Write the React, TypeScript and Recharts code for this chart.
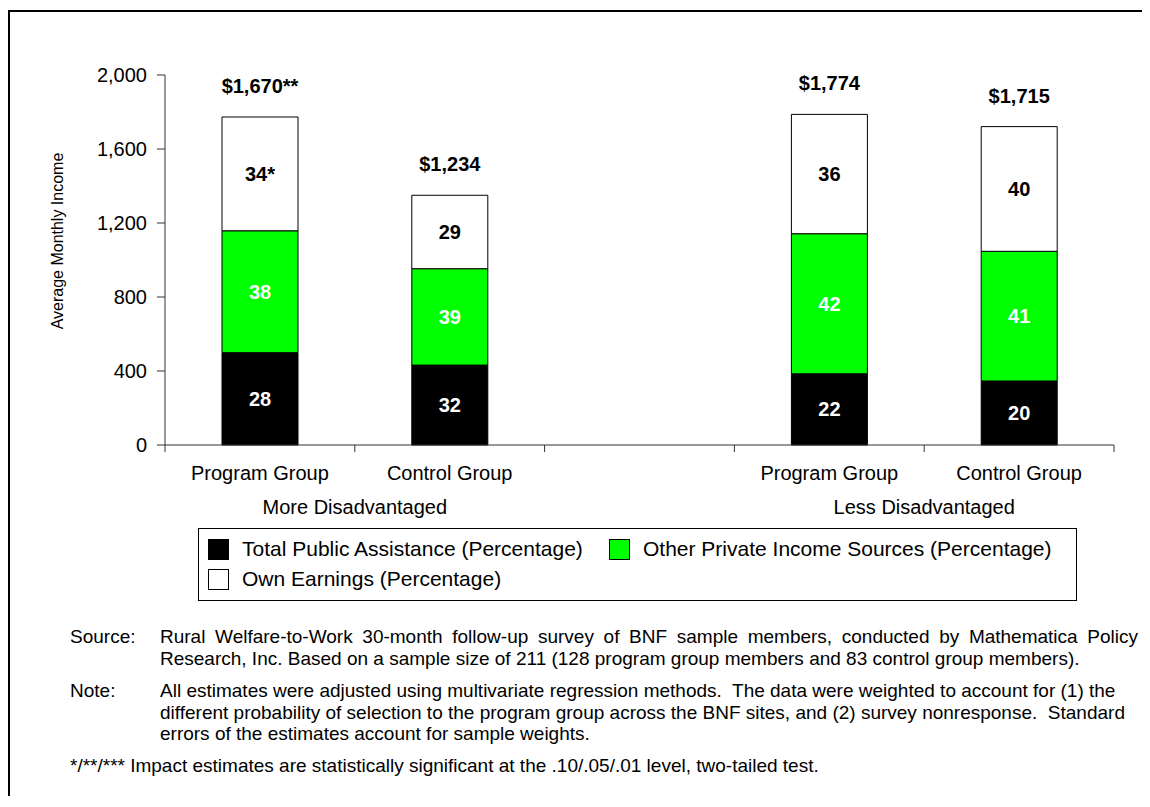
import React from "react";
import { BarChart, Bar, XAxis, YAxis, Legend, LabelList } from "recharts";

// categories on the x axis (the empty one is the gap between the two groups)
const categories = ["Program Group", "Control Group", "", "Program Group", "Control Group"];
const groups = ["More Disadvantaged", "Less Disadvantaged"];
const groupAfter = [0, 3]; // group label sits on the boundary right of these categories

// dollar amounts
const publicAssistance = [499, 432, null, 385, 346];
const otherPrivate = [659, 521, null, 757, 701];
const ownEarnings = [615, 397, null, 645, 674];

// printed labels
const pctPublic = ["28", "32", "", "22", "20"];
const pctOther = ["38", "39", "", "42", "41"];
const pctOwn = ["34*", "29", "", "36", "40"];
const totals = ["$1,670**", "$1,234", "", "$1,774", "$1,715"];

const yTicks = [0, 400, 800, 1200, 1600, 2000];

const seriesNames = [
  "Total Public Assistance (Percentage)",
  "Other Private Income Sources (Percentage)",
  "Own Earnings (Percentage)",
];
const seriesColors = ["#000000", "#00ff00", "#ffffff"];

const data = categories.map((name, i) => ({
  id: i,
  name,
  pa: publicAssistance[i],
  other: otherPrivate[i],
  own: ownEarnings[i],
  paPct: pctPublic[i],
  otherPct: pctOther[i],
  ownPct: pctOwn[i],
  total: totals[i],
}));

const FONT = "'Liberation Sans', Arial, sans-serif";
const AXIS = "#333";

const W = 1134;
const H = 600;
const MARGIN = { top: 67, right: 28, bottom: 88, left: 0 };
const Y_W = 157;
const X_H = 75;
const HALF_BAND = (W - MARGIN.left - MARGIN.right - Y_W) / categories.length / 2;

function CategoryTick(props: any) {
  const { x, y, index } = props;
  const gi = groupAfter.indexOf(index);
  return (
    <g>
      <line x1={x - HALF_BAND} x2={x - HALF_BAND} y1={y} y2={y + 7} stroke={AXIS} />
      {index === categories.length - 1 && (
        <line x1={x + HALF_BAND} x2={x + HALF_BAND} y1={y} y2={y + 7} stroke={AXIS} />
      )}
      <text x={x} y={y + 28} textAnchor="middle" dominantBaseline="central" fill="#000" fontSize={20} fontFamily={FONT}>
        {categories[index]}
      </text>
      {gi >= 0 && (
        <text x={x + HALF_BAND} y={y + 62} textAnchor="middle" dominantBaseline="central" fill="#000" fontSize={20} fontFamily={FONT}>
          {groups[gi]}
        </text>
      )}
    </g>
  );
}

function YTitle(props: any) {
  const vb = props.viewBox || { x: 0, y: MARGIN.top, width: Y_W, height: 370 };
  const cx = vb.x + 49;
  const cy = vb.y + vb.height / 2 - 19;
  return (
    <text x={cx} y={cy} transform={`rotate(-90 ${cx} ${cy})`} textAnchor="middle" dominantBaseline="central" fill="#000" fontSize={16} fontFamily={FONT}>
      Average Monthly Income
    </text>
  );
}

const legendSpots = [
  [9, 10],
  [410, 10],
  [9, 40],
];

function LegendBox() {
  return (
    <div style={{ width: 879, height: 73, border: "1px solid #000", boxSizing: "border-box", position: "relative", fontFamily: FONT, fontSize: 21, color: "#000" }}>
      {seriesNames.map((n, i) => (
        <div key={n} style={{ position: "absolute", left: legendSpots[i][0], top: legendSpots[i][1], display: "flex", alignItems: "center", height: 20, whiteSpace: "nowrap" }}>
          <span style={{ display: "inline-block", width: 21, height: 21, background: seriesColors[i], border: "1px solid #000", boxSizing: "border-box", marginRight: 13 }} />
          <span>{n}</span>
        </div>
      ))}
    </div>
  );
}

const segLabel = { fill: "#fff", fontSize: 20, fontWeight: 700, fontFamily: FONT };
const note = { position: "absolute" as const, whiteSpace: "pre" as const };

export default function App() {
  return (
    <div style={{ position: "relative", width: W, height: 790, fontFamily: FONT }}>
      <div style={{ position: "absolute", left: 0, top: 2, width: 1142, height: 2, background: "#000" }} />
      <div style={{ position: "absolute", left: 0, top: 2, width: 2, height: 786, background: "#000" }} />
      <div style={{ position: "absolute", left: 0, top: 0 }}>
        <BarChart width={W} height={H} data={data} margin={MARGIN} barSize={76}>
          <XAxis dataKey="id" height={X_H} stroke={AXIS} tickLine={false} tickSize={0} tickMargin={0} interval={0} tick={<CategoryTick />} />
          <YAxis
            width={Y_W}
            domain={[0, 2000]}
            ticks={yTicks}
            interval={0}
            tickSize={8}
            tickMargin={10}
            stroke={AXIS}
            tick={{ fill: "#000", fontSize: 20, fontFamily: FONT }}
            tickFormatter={(v: number) => v.toLocaleString("en-US")}
            label={<YTitle />}
          />
          <Legend layout="horizontal" verticalAlign="middle" align="center" wrapperStyle={{ left: 190, top: 520, width: 879 }} content={<LegendBox />} />
          <Bar dataKey="pa" stackId="a" name={seriesNames[0]} fill={seriesColors[0]} stroke="#000" strokeWidth={1} isAnimationActive={false}>
            <LabelList dataKey="paPct" position="center" style={segLabel} />
          </Bar>
          <Bar dataKey="other" stackId="a" name={seriesNames[1]} fill={seriesColors[1]} stroke="#000" strokeWidth={1} isAnimationActive={false}>
            <LabelList dataKey="otherPct" position="center" style={segLabel} />
          </Bar>
          <Bar dataKey="own" stackId="a" name={seriesNames[2]} fill={seriesColors[2]} stroke="#000" strokeWidth={1} isAnimationActive={false}>
            <LabelList dataKey="ownPct" position="center" style={{ ...segLabel, fill: "#000" }} />
            <LabelList dataKey="total" position="top" offset={24} style={{ ...segLabel, fill: "#000" }} />
          </Bar>
        </BarChart>
      </div>
      <div style={{ position: "absolute", left: 0, top: 618, width: W, fontSize: 19, lineHeight: "21.5px", color: "#000" }}>
        <div style={{ ...note, left: 62, top: 0 }}>Source:</div>
        <div style={{ ...note, left: 152, top: 0, width: 978 }}>
          <div style={{ whiteSpace: "normal", textAlign: "justify", textAlignLast: "justify" }}>
            Rural Welfare-to-Work 30-month follow-up survey of BNF sample members, conducted by Mathematica Policy
          </div>
          <div>Research, Inc. Based on a sample size of 211 (128 program group members and 83 control group members).</div>
        </div>
        <div style={{ ...note, left: 62, top: 54 }}>Note:</div>
        <div style={{ ...note, left: 152, top: 54 }}>
          <div>All estimates were adjusted using multivariate regression methods.  The data were weighted to account for (1) the</div>
          <div>different probability of selection to the program group across the BNF sites, and (2) survey nonresponse.  Standard</div>
          <div>errors of the estimates account for sample weights.</div>
        </div>
        <div style={{ ...note, left: 62, top: 129 }}>
          */**/*** Impact estimates are statistically significant at the .10/.05/.01 level, two-tailed test.
        </div>
      </div>
    </div>
  );
}
